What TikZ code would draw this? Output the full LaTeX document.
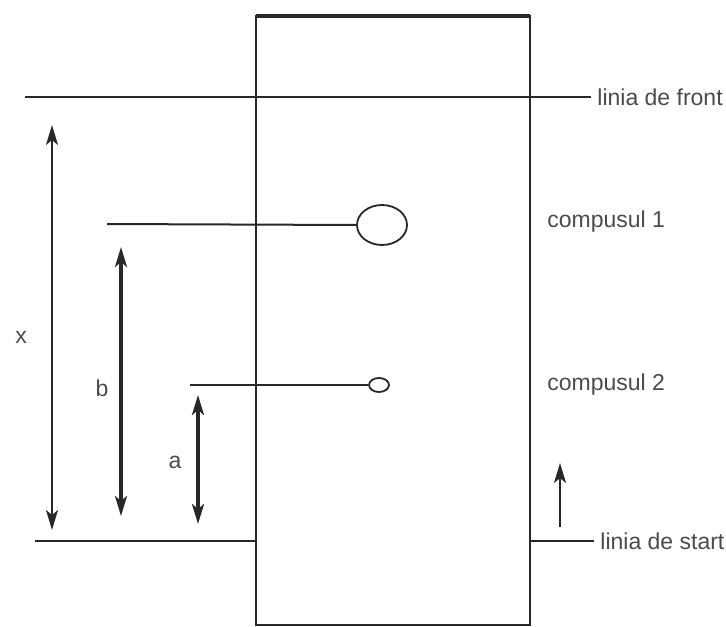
\documentclass[tikz,border=0pt]{standalone}
\usepackage{fontspec}
\setmainfont{Liberation Sans}
\usetikzlibrary{arrows.meta, positioning, shapes.geometric}
\definecolor{inkdark}{RGB}{40,40,40}
\definecolor{inkgray}{RGB}{75,75,75}

\begin{document}
\begin{tikzpicture}[
  x=0.5pt, y=-0.5pt,
  font=\fontsize{11.5}{13}\selectfont,
  plate/.style={draw=inkdark, line width=0.6pt},
  level line/.style={draw=inkdark, line width=1pt},
  spot/.style={ellipse, draw=inkdark, line width=0.9pt, inner sep=0pt},
  dim/.style={draw=inkdark, line width=1pt, {Stealth[length=10pt, width=6pt, inset=2.5pt]}-{Stealth[length=10pt, width=6pt, inset=2.5pt]}},
  run/.style={draw=inkdark, line width=1.1pt, -{Stealth[length=10pt, width=6pt, inset=2.5pt]}},
  side label/.style={text=inkgray, anchor=west, inner sep=3pt},
  dim label/.style={text=inkgray, inner sep=0pt}
]
\useasboundingbox (0,0) rectangle (726,626);
\def\plateL{256}
\def\plateR{530}
\draw[plate] (\plateL,16) rectangle (\plateR,625);
\draw[plate, line width=1.6pt] (\plateL,16) -- (\plateR,16);

\node[side label] (front) at (591,97) {linia de front};
\coordinate (frontend) at (25,97);
\draw[level line] (frontend) -- (front.west);

\node[side label] (start) at (594,541) {linia de start};
\coordinate (startL) at (35,541);
\coordinate (startM) at (\plateL,541);
\coordinate (startR) at (\plateR,541);
\draw[level line] (startL) -- (startM);
\draw[level line] (startR) -- (start.west);

\node[spot, minimum width=25pt, minimum height=20pt] (c1) at (382,225) {};
\node[side label] (c1 label) at (541,222) {compusul 1};
\coordinate (c1 end) at (107,224);
\draw[level line] (c1 end) -- (c1.west);

\node[spot, minimum width=10pt, minimum height=7pt] (c2) at (379,385) {};
\node[side label] (c2 label) at (541,385) {compusul 2};
\coordinate (c2 end) at (190,385);
\draw[level line, line width=0.8pt] (c2 end) -- (c2.west);

\foreach \n/\xx/\yt/\yb/\lx/\ly/\w in {x/52/125/530/21/337/1pt, b/121/247/516/102/388/1.6pt, a/198/395/524/175/462/1.6pt} {
  \coordinate (\n top) at (\xx,\yt);
  \coordinate (\n bot) at (\xx,\yb);
  \draw[dim, line width=\w] (\n top) -- (\n bot);
  \node[dim label] (\n lab) at (\lx,\ly) {\n};
}

\coordinate (run tail) at (560,527);
\coordinate (run tip) at (560,463);
\draw[run] (run tail) -- (run tip);
\end{tikzpicture}
\end{document}
